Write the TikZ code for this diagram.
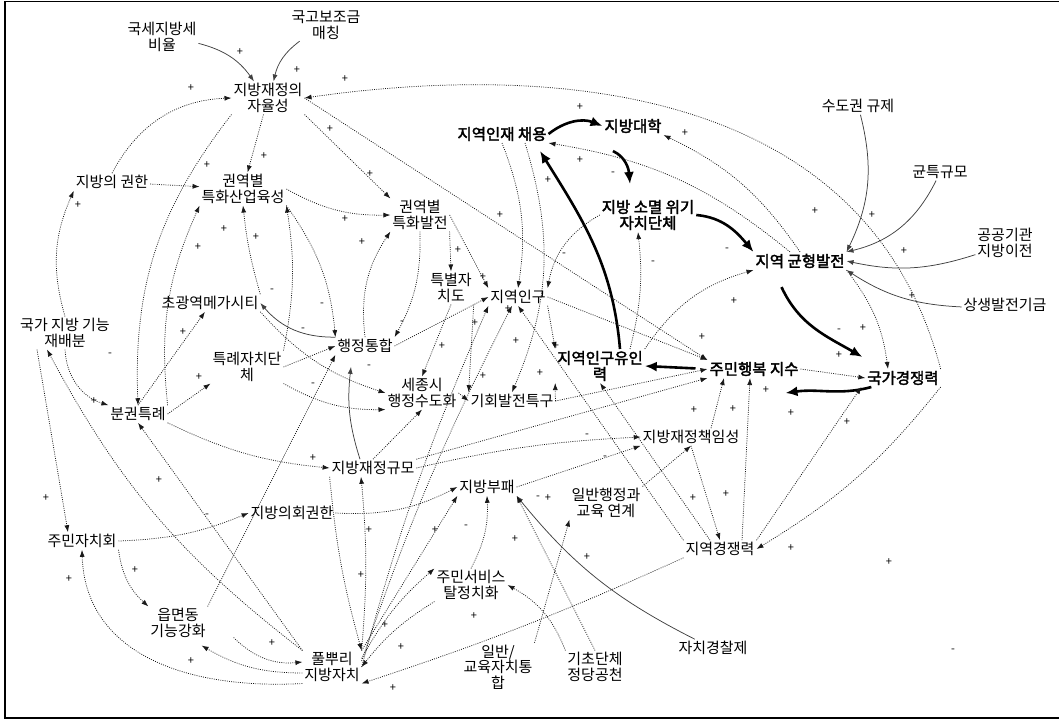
\documentclass[tikz,border=0pt]{standalone}
\usepackage{fontspec}
\setmainfont{Noto Sans CJK KR}[AutoFakeBold=2.5]
\usetikzlibrary{arrows.meta}
\begin{document}
\begin{tikzpicture}[x=1pt,y=1pt,
  lbl/.style={inner sep=1pt,outer sep=1pt,align=center,font=\fontsize{15}{15.5}\selectfont},
  blbl/.style={lbl,font=\fontsize{15.5}{16}\selectfont\bfseries},
  sgn/.style={inner sep=0pt,font=\fontsize{11}{11}\selectfont},
  dl/.style={line width=0.75pt,dash pattern=on 0.9pt off 1.3pt,black!90,-{Latex[length=7pt,width=5pt]}},
  sl/.style={line width=0.75pt,black!75,-{Latex[length=7pt,width=5pt]}},
  bl/.style={line width=2.6pt,-{Latex[length=12pt,width=10pt]}},
]
\useasboundingbox (0,0) rectangle (1059,-720);
\draw[line width=1.6pt] (1059,-1.5) -- (5,-1.5) -- (5,-718) -- (1059,-718);

% nodes
\node[lbl] (kuksei) at (162,-37) {국세지방세\\비율};
\node[lbl] (kukgo) at (326,-25) {국고보조금\\매칭};
\node[lbl] (jayul) at (268,-98) {지방재정의\\자율성};
\node[lbl] (gwonhan) at (112,-182) {지방의 권한};
\node[lbl] (sanup) at (243,-189) {권역별\\특화산업육성};
\node[lbl] (balj) at (420,-215) {권역별\\특화발전};
\node[blbl] (injae) at (502,-134) {지역인재 채용};
\node[blbl] (daehak) at (633,-126) {지방대학};
\node[blbl] (somyeol) at (648,-215) {지방 소멸 위기\\자치단체};
\node[lbl] (sudo) at (858,-106) {수도권 규제};
\node[lbl] (gyunteuk) at (940,-172) {균특규모};
\node[lbl] (gonggong) at (1005,-243) {공공기관\\지방이전};
\node[lbl] (sangsaeng) at (1005,-305) {상생발전기금};
\node[blbl] (gyunhyeong) at (800,-261) {지역 균형발전};
\node[blbl] (gukga) at (903,-378) {국가경쟁력};
\node[blbl] (haengbok) at (754,-369) {주민행복 지수};
\node[blbl] (yuin) at (600,-366) {지역인구유인\\력};
\node[lbl] (ingu) at (518,-297) {지역인구};
\node[lbl] (teukbyeol) at (451,-288) {특별자\\치도};
\node[lbl] (tonghap) at (365,-346) {행정통합};
\node[lbl] (mega) at (210,-303) {초광역메가시티};
\node[lbl] (teukrye) at (247,-367) {특례자치단\\체};
\node[lbl] (jaebaebun) at (65,-333) {국가 지방 기능\\재배분};
\node[lbl] (bungwon) at (138,-414) {분권특례};
\node[lbl] (sejong) at (422,-393) {세종시\\행정수도화};
\node[lbl] (gihoe) at (512,-401) {기회발전특구};
\node[lbl] (chaegim) at (691,-437) {지방재정책임성};
\node[lbl] (gyumo) at (373,-468) {지방재정규모};
\node[lbl] (bupae) at (487,-487) {지방부패};
\node[lbl] (yeongye) at (606,-503) {일반행정과\\교육 연계};
\node[lbl] (gyeongjaeng) at (720,-549) {지역경쟁력};
\node[lbl] (uihoe) at (292,-513) {지방의회권한};
\node[lbl] (jumin) at (82,-541) {주민자치회};
\node[lbl] (eup) at (178,-623) {읍면동\\기능강화};
\node[lbl] (pulppuri) at (332,-667) {풀뿌리\\지방자치};
\node[lbl] (service) at (471,-585) {주민서비스\\탈정치화};
\node[lbl] (gyoyuk) at (498,-667) {일반/\\교육자치통\\합};
\node[lbl] (jeongdang) at (595,-667) {기초단체\\정당공천};
\node[lbl] (gyeongchal) at (713,-648) {자치경찰제};

% thin solid
\draw[sl] (kuksei) to[bend left=20] (jayul);
\draw[sl] (kukgo) to[bend right=20] (jayul);
\draw[sl] (sudo) to[bend left=20] (gyunhyeong.north east);
\draw[sl] (gyunteuk) to[bend left=25] (gyunhyeong.north east);
\draw[sl] (gonggong) to[bend left=15] (gyunhyeong.east);
\draw[sl] (sangsaeng) to[bend left=15] (gyunhyeong.south east);
\draw[sl] (gyeongchal) to[bend left=12] (bupae.south east);
\draw[sl] (tonghap.north west) to[bend left=25] (mega.east);
\draw[sl] ([xshift=-13pt]gyumo.north) to[bend left=12] ([xshift=-14pt,yshift=-12pt]tonghap.south);

% bold
\draw[bl] (injae.east) to[bend left=30] (daehak.west);
\draw[bl] ([shift={(-20,-16)}]daehak.south) to[out=-25,in=95] ([shift={(-18,14)}]somyeol.north);
\draw[bl] (somyeol.east) to[out=-5,in=130] (gyunhyeong.north west);
\draw[bl] ([shift={(28,-17)}]gyunhyeong.south west) to[out=-65,in=150] ([shift={(-3,12)}]gukga.north west);
\draw[bl] ([xshift=20pt]yuin.north) to[out=95,in=-58] ([shift={(38,-8)}]injae.south);
\draw[bl,shorten <=12pt] (haengbok.west) -- (yuin.east);
\draw[bl] ([xshift=6pt]gukga.south west) to[out=195,in=8] ([shift={(-15,-15)}]haengbok.south east);

% dotted
\draw[dl] (gwonhan.north) to[bend left=30] (jayul.west);
\draw[dl] (gwonhan) -- (sanup);
\draw[dl] (jayul) -- (sanup);
\draw[dl] (gukga.north east) .. controls (860,-60) and (500,-70) .. (jayul.east);
\draw[dl] (jayul.south west) to[bend right=20] (bungwon.north);
\draw[dl] (bungwon.north east) to[bend left=15] (sanup.south west);
\draw[dl] (jaebaebun.north) to[bend left=20] (gwonhan.south west);
\draw[dl] (jaebaebun.south) to[bend right=35] (bungwon.north west);
\draw[dl] (jayul.south east) -- (balj.north west);
\draw[dl] (sanup.east) to[bend right=15] (balj.west);
\draw[dl] (sanup.south east) to[bend left=15] (tonghap.north west);
\draw[dl] (balj.south) to[bend left=15] (tonghap.north east);
\draw[dl] (tonghap.north) to[bend left=20] (balj.south west);
\draw[dl] (balj.south east) -- (teukbyeol.north);
\draw[dl] (teukbyeol.south) -- (sejong.north);
\draw[dl] (teukbyeol.south east) -- (gihoe.north west);
\draw[dl] (mega.north east) to[bend left=5] (sanup.south);
\draw[dl] (teukrye.north east) to[bend right=10] (sanup.south east);
\draw[dl] (bungwon.north) -- ([xshift=-5pt]mega.south);
\draw[dl] (bungwon.east) -- (teukrye.south west);
\draw[dl] (teukrye.east) -- (tonghap.west);
\draw[dl] (mega.south east) to[bend right=15] (sejong.west);
\draw[dl] (teukrye.south east) to[bend right=15] (sejong.south west);
\draw[dl] (bungwon.south east) to[bend right=10] (gyumo.west);
\draw[dl] (pulppuri.north west) -- (bungwon.south);
\draw[dl] (pulppuri.north west) to[bend left=12] ([xshift=-18pt]jaebaebun.south);
\draw[dl] ([xshift=-28pt]jaebaebun.south) -- ([xshift=-14pt]jumin.north);
\draw[dl] (jumin.east) to[bend right=10] (uihoe.west);
\draw[dl] (jumin.south east) to[bend right=20] (eup.north west);
\draw[dl] (pulppuri.south west) .. controls (180,-690) and (85,-650) .. (jumin.south);
\draw[dl] ([yshift=-6pt]pulppuri.west) to[bend left=15] ([shift={(-6,-6)}]eup.south east);
\draw[dl] ([xshift=26pt,yshift=2pt]eup.south east) to[bend right=25] ([yshift=5pt]pulppuri.west);
\draw[dl] (uihoe.east) to[bend right=15] (bupae.west);
\draw[dl] (pulppuri.north east) to[bend right=5] ([xshift=-12pt]gyumo.south);
\draw[dl] (gyumo.south west) to[bend right=5] (pulppuri.north east);
\draw[dl] (pulppuri.north east) -- (bupae.south west);
\draw[dl] (pulppuri.east) to[bend left=4] (ingu.south west);
\draw[dl] ([yshift=6pt]pulppuri.east) to[bend left=4] ([xshift=-6pt]ingu.south);
\draw[dl] ([yshift=-8pt]pulppuri.north east) to[bend left=10] (service.north west);
\draw[dl] (service.south west) to[bend right=10] (pulppuri.east);
\draw[dl] (gyeongjaeng.south west) to[bend left=3] (pulppuri.south east);
\draw[dl] (service.north) to[bend right=15] (bupae.south);
\draw[dl] (jeongdang.north west) to[bend right=20] (service.east);
\draw[dl] (jeongdang.north) -- (bupae.south east);
\draw[dl] (gyoyuk.north east) -- (yeongye.south west);
\draw[dl] (bupae.east) -- (chaegim.south west);
\draw[dl] (gyumo.east) to[bend left=5] (chaegim.west);
\draw[dl] (gyumo.north east) -- (haengbok.south west);
\draw[dl] (gihoe.east) -- (haengbok.west);
\draw[dl] (chaegim.south) -- (gyeongjaeng.north);
\draw[dl] ([xshift=22pt]gyeongjaeng.north) -- ([xshift=-4pt]haengbok.south);
\draw[dl] ([xshift=20pt]chaegim.north) -- ([xshift=-30pt]haengbok.south);
\draw[dl] (gukga.south east) to[bend left=10] (gyeongjaeng.east);
\draw[dl] (gyeongjaeng.north east) -- ([xshift=-4pt]gukga.south west);
\draw[dl] (haengbok.east) -- (gukga.west);
\draw[dl] (gyunhyeong.south east) to[bend left=15] ([xshift=-15pt]gukga.north);
\draw[dl] (gyunhyeong.north) to[bend right=15] (daehak.south east);
\draw[dl] ([xshift=-10pt]gyunhyeong.north) to[bend right=15] (injae.south east);
\draw[dl] (yuin.north east) to[bend left=20] (gyunhyeong.south west);
\draw[dl] ([xshift=30pt]yuin.north) to[bend right=10] ([xshift=-10pt]somyeol.south);
\draw[dl] (somyeol.west) to[bend right=25] (ingu.north east);
\draw[dl] (injae.south) to[bend left=15] (ingu.north);
\draw[dl] ([xshift=23pt]injae.south) to[bend left=20] (gihoe.north);
\draw[dl] (ingu.south east) -- (yuin.north west);
\draw[dl] (ingu.east) -- (haengbok.north west);
\draw[dl] (jayul.east) -- (haengbok.north west);
\draw[dl] (gyeongjaeng.north west) -- (ingu.south);
\draw[dl] ([xshift=-10pt]gyeongjaeng.north) -- (yuin.south);
\draw[dl] (gihoe.east) -- (yuin.south west);
\draw[dl] (tonghap.east) -- (ingu.west);
\draw[dl] (balj.east) -- (ingu.north west);
\draw[dl] (sejong.east) -- (gihoe.west);
\draw[dl] (eup.north east) -- (tonghap.south west);
\draw[dl] (gyumo.north) -- (sejong.south);
\draw[dl] (yeongye.north east) -- (chaegim.south);

% signs
\foreach \x/\y [count=\i] in {240/52,297/70,345/79,191/88,330/129,264/156,207/165,345/219,78/205,224/229,256/237,198/247,580/107,685/133,580/160,370/174,548/180,500/215,815/211,872/215,183/332,199/377,94/401,313/458,362/242,458/250,483/277,508/309,475/323,516/341,442/346,556/346,483/376,540/373,694/410,904/251,734/301,912/296,702/337,863/328,839/355,733/409,766/390,791/413,847/422,159/480,46/498,135/570,69/579,272/643,191/661,369/530,435/530,361/575,515/539,587/557,474/616,385/625,401/647,393/688,548/498,693/498,726/494,791/548,889/562}
  \node[sgn] (p\i) at (\x,-\y) {+};
\foreach \x/\y [count=\i] in {272/291,322/305,303/330,110/355,313/385,564/255,653/263,402/323,369/367,587/436,605/458,727/250,839/331,207/516,466/527,538/498,613/174,953/651}
  \node[sgn] (m\i) at (\x,-\y) {-};
\end{tikzpicture}
\end{document}
